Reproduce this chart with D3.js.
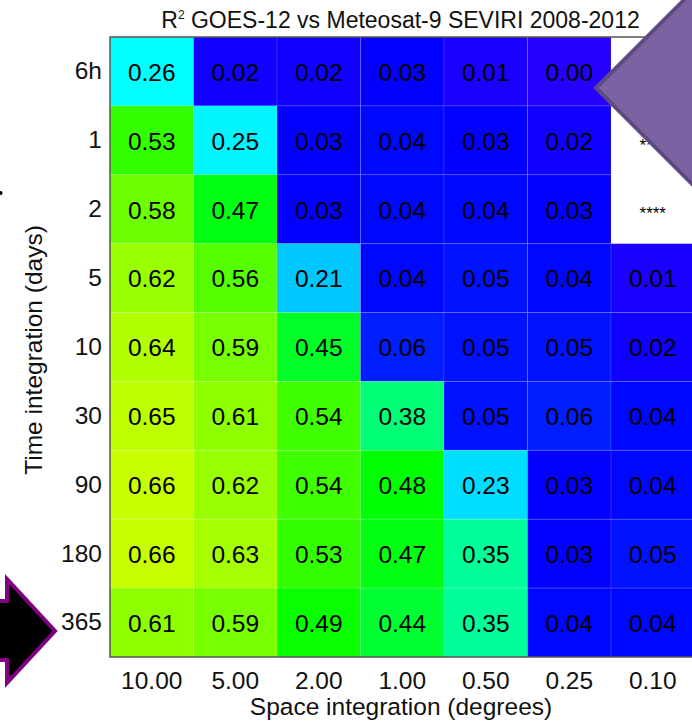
<!DOCTYPE html>
<html>
<head>
<meta charset="utf-8">
<script src="https://cdn.jsdelivr.net/npm/d3@7"></script>
<style>
  body { margin: 0; background: #fff; }
  svg { display: block; font-family: "Liberation Sans", Arial, Helvetica, sans-serif; }
</style>
</head>
<body>
<div id="chart"></div>
<script>
const rowLabels = ["6h", "1", "2", "5", "10", "30", "90", "180", "365"]
const colLabels = ["10.00", "5.00", "2.00", "1.00", "0.50", "0.25", "0.10"]

// R² per row (time integration) and column (space integration); null = no data
const r2 = [
  [0.26, 0.02, 0.02, 0.03, 0.01, 0.00, null],
  [0.53, 0.25, 0.03, 0.04, 0.03, 0.02, null],
  [0.58, 0.47, 0.03, 0.04, 0.04, 0.03, null],
  [0.62, 0.56, 0.21, 0.04, 0.05, 0.04, 0.01],
  [0.64, 0.59, 0.45, 0.06, 0.05, 0.05, 0.02],
  [0.65, 0.61, 0.54, 0.38, 0.05, 0.06, 0.04],
  [0.66, 0.62, 0.54, 0.48, 0.23, 0.03, 0.04],
  [0.66, 0.63, 0.53, 0.47, 0.35, 0.03, 0.05],
  [0.61, 0.59, 0.49, 0.44, 0.35, 0.04, 0.04]
]

const width = 692, height = 722
const plotL = 110, plotT = 37, plotR = 694.5, plotB = 657
const fs = 24.5

const svg = d3.select("#chart").append("svg")
    .attr("width", width)
    .attr("height", height)

const x = d3.scaleBand().domain(colLabels).range([plotL, plotR])
const y = d3.scaleBand().domain(rowLabels).range([plotT, plotB])

// hue runs from violet-blue at 0 towards yellow-green at high R²
const hue = d3.scaleLinear().domain([0, 0.66]).range([249, 73])
const color = v => d3.hsl(hue(v), 1, 0.5).formatHex()

const cells = []
r2.forEach((row, i) => row.forEach((v, j) => cells.push({ row: rowLabels[i], col: colLabels[j], v })))

const g = svg.append("g")

g.selectAll("rect")
  .data(cells)
  .join("rect")
    .attr("x", d => x(d.col))
    .attr("y", d => y(d.row))
    .attr("width", x.bandwidth())
    .attr("height", y.bandwidth())
    .attr("fill", d => d.v == null ? "#fff" : color(d.v))
    .attr("stroke", d => d.v == null ? "none" : "rgba(255,255,255,0.12)")
    .attr("stroke-width", 1)

g.selectAll("text.val")
  .data(cells)
  .join("text")
    .attr("class", "val")
    .attr("x", d => x(d.col) + x.bandwidth() / 2)
    .attr("y", d => y(d.row) + y.bandwidth() / 2)
    .attr("dy", d => d.v == null ? "0.6em" : "0.38em")
    .attr("text-anchor", "middle")
    .attr("font-size", d => d.v == null ? 17 : fs)
    .attr("fill", "#000")
    .text(d => d.v == null ? "****" : d.v.toFixed(2))

// frame
svg.append("path")
    .attr("d", `M${plotR},${plotT}H${plotL}V${plotB}H${plotR}`)
    .attr("fill", "none")
    .attr("stroke", "#555")
    .attr("stroke-width", 1.5)

const yAxis = svg.append("g")
    .attr("transform", `translate(${plotL},0)`)
    .call(d3.axisLeft(y).tickSize(0).tickPadding(8))
yAxis.select(".domain").remove()
yAxis.selectAll("text").attr("font-size", fs).attr("font-family", null).attr("fill", "#111")

const xAxis = svg.append("g")
    .attr("transform", `translate(0,${plotB})`)
    .call(d3.axisBottom(x).tickSize(0).tickPadding(15))
xAxis.select(".domain").remove()
xAxis.selectAll("text").attr("font-size", fs).attr("font-family", null).attr("fill", "#111")

// title
const title = svg.append("text")
    .attr("x", (plotL + 691) / 2)
    .attr("y", 28)
    .attr("text-anchor", "middle")
    .attr("font-size", 23)
    .attr("fill", "#111")
title.append("tspan").text("R")
title.append("tspan").attr("font-size", 12).attr("dy", -9).text("2")
title.append("tspan").attr("dy", 9).text(" GOES-12 vs Meteosat-9 SEVIRI 2008-2012")

svg.append("text")
    .attr("x", 401)
    .attr("y", 715)
    .attr("text-anchor", "middle")
    .attr("font-size", fs)
    .attr("fill", "#111")
    .text("Space integration (degrees)")

svg.append("text")
    .attr("transform", `translate(42,${(plotT + plotB) / 2 + 3}) rotate(-90)`)
    .attr("text-anchor", "middle")
    .attr("font-size", fs)
    .attr("fill", "#111")
    .text("Time integration (days)")

// overlay shapes from the slide
svg.append("path")
    .attr("d", "M596,88L700,-16L804,88L700,192Z")
    .attr("fill", "#7b63a3")
    .attr("stroke", "#5d4a80")
    .attr("stroke-width", 4)

svg.append("path")
    .attr("d", "M-10,601H7V579L55,631L7,683V660H-10Z")
    .attr("fill", "#000")
    .attr("stroke", "#800080")
    .attr("stroke-width", 4)
    .attr("stroke-linejoin", "miter")

svg.append("circle")
    .attr("cx", 0.5)
    .attr("cy", 193)
    .attr("r", 2)
    .attr("fill", "#000")
</script>
</body>
</html>
